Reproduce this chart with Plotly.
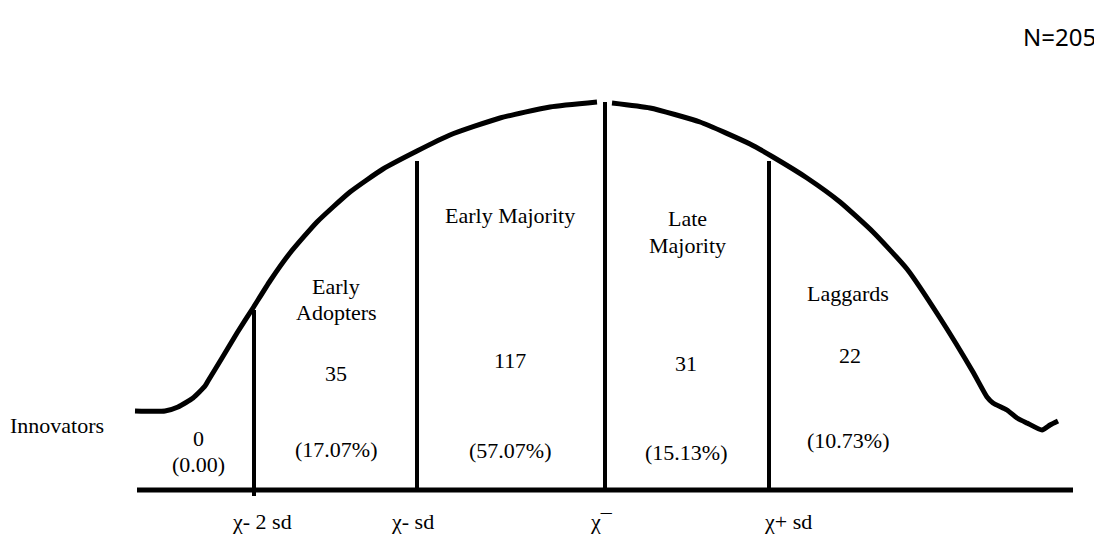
import plotly.graph_objects as go

# ---- data (diagram units: horizontal position / vertical level) ----
categories = ["Innovators", "Early Adopters", "Early Majority", "Late Majority", "Laggards"]
counts = [0, 35, 117, 31, 22]
percents = ["(0.00)", "(17.07%)", "(57.07%)", "(15.13%)", "(10.73%)"]
total_n = 205

tick_labels = ["χ- 2 sd", "χ- sd", "χ¯", "χ+ sd"]
boundary_x = [254, 417, 605, 769]
boundary_top = [310, 161, 102, 161]
boundary_bottom = [496, 490, 490, 490]

# adoption curve, left and right pieces (gap at the mean)
curve_left_x = [135, 165, 178, 193, 205, 208, 222, 237, 253, 270, 290, 317, 350,
                383, 417, 450, 500, 550, 597]
curve_left_y = [411, 411, 407, 398, 386, 381, 358, 333, 308, 281, 253, 222, 192,
                169, 151, 135, 118, 107, 102]
curve_right_x = [612, 650, 700, 750, 773, 807, 840, 873, 907, 940, 973, 987, 993, 1007,
                 1017, 1027, 1042, 1050, 1058]
curve_right_y = [103, 108, 122, 144, 157, 178, 202, 232, 269, 318, 372, 397, 403, 410,
                 418, 423, 430, 425, 421]

baseline_x = [137, 1073]
baseline_y = [490, 490]

fig = go.Figure()
fig.add_trace(go.Scatter(x=curve_left_x, y=curve_left_y, mode="lines",
                         line=dict(color="black", width=5, shape="spline", smoothing=0.5),
                         hoverinfo="skip"))
fig.add_trace(go.Scatter(x=curve_right_x, y=curve_right_y, mode="lines",
                         line=dict(color="black", width=5, shape="spline", smoothing=0.5),
                         hoverinfo="skip"))
fig.add_trace(go.Scatter(x=baseline_x, y=baseline_y, mode="lines",
                         line=dict(color="black", width=5), hoverinfo="skip"))
for bx, bt, bb in zip(boundary_x, boundary_top, boundary_bottom):
    fig.add_trace(go.Scatter(x=[bx, bx], y=[bt, bb], mode="lines",
                             line=dict(color="black", width=4), hoverinfo="skip"))

serif = dict(family="Liberation Serif, Times New Roman, serif", size=22, color="black")


def label(x, y, text, font=serif, xanchor="center"):
    fig.add_annotation(x=x, y=y, text=text, showarrow=False, font=font,
                       xanchor=xanchor, yanchor="middle")


# category names
label(57, 425, categories[0])
label(336, 286, "Early")
label(336, 312, "Adopters")
label(510, 215, categories[2])
label(687, 218, "Late")
label(687, 245, "Majority")
label(848, 293, categories[4])

# counts
count_pos = [(198, 438), (336, 373), (510, 360), (686, 363), (850, 355)]
for (cx, cy), c in zip(count_pos, counts):
    label(cx, cy, str(c))

# percentages
pct_pos = [(198, 464), (336, 449), (510, 450), (686, 452), (848, 440)]
for (px, py), p in zip(pct_pos, percents):
    label(px, py, p)

# tick labels below baseline
tick_pos = [262, 412, 601, 788]
for tx, t in zip(tick_pos, tick_labels):
    label(tx, 521, t)

label(1098, 36, f"N={total_n}",
      font=dict(family="Noto Sans, Open Sans, sans-serif", size=24, color="black"),
      xanchor="right")

# the page body has an 8px margin; shift the ranges so diagram units match page pixels
fig.update_layout(
    width=1094, height=548,
    margin=dict(l=0, r=0, t=0, b=0),
    paper_bgcolor="white", plot_bgcolor="white",
    showlegend=False,
    xaxis=dict(range=[8, 1102], visible=False, fixedrange=True),
    yaxis=dict(range=[556, 8], visible=False, fixedrange=True),
)

fig.write_html("out.html")
